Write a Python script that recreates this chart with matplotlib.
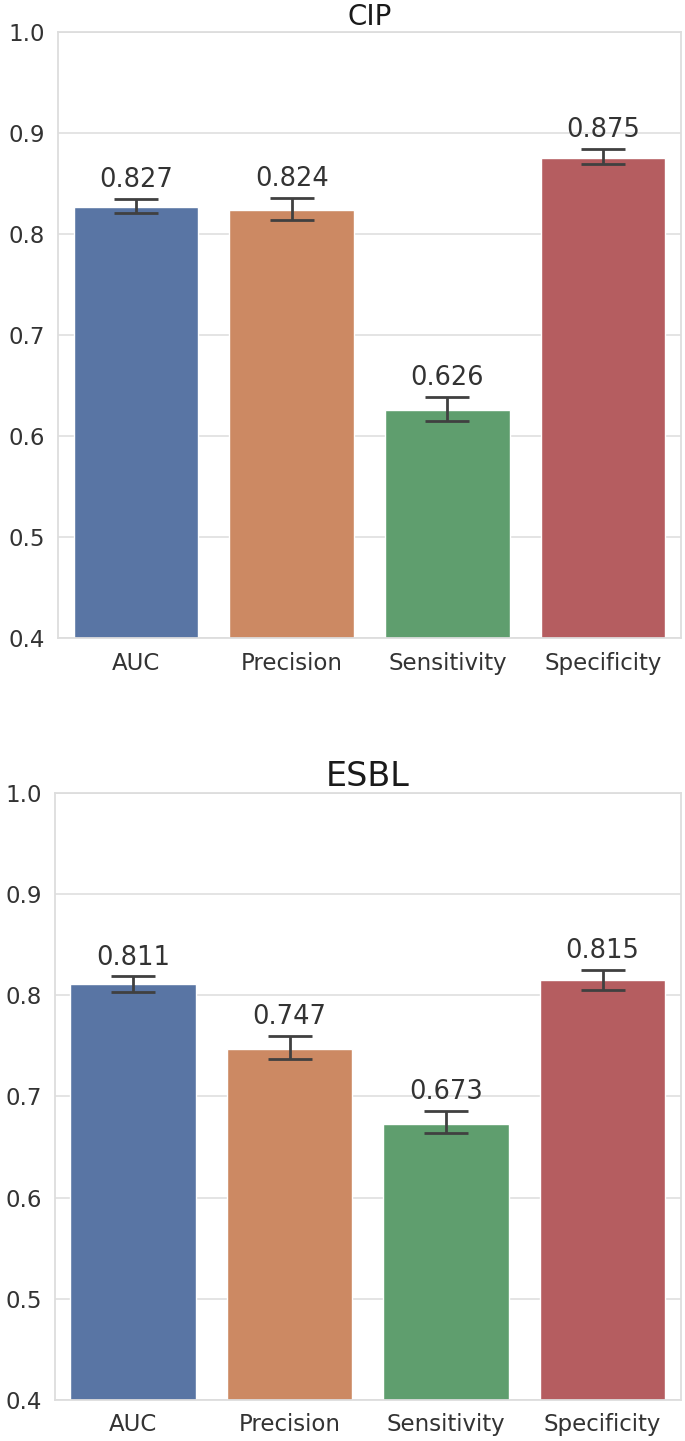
import numpy as np
import matplotlib
matplotlib.use("Agg")
import matplotlib.pyplot as plt
import seaborn as sns

sns.set_theme(style="whitegrid")
plt.rcParams['font.family'] = ['DejaVu Sans']

metrics = ["AUC", "Precision", "Sensitivity", "Specificity"]

# CIP
cip_vals = [0.827, 0.824, 0.626, 0.875]
cip_low = [0.821, 0.814, 0.615, 0.869]
cip_high = [0.835, 0.836, 0.639, 0.884]

# ESBL
esbl_vals = [0.811, 0.747, 0.673, 0.815]
esbl_low = [0.803, 0.737, 0.664, 0.805]
esbl_high = [0.819, 0.760, 0.686, 0.825]

colors = [sns.desaturate(c, 0.75) for c in sns.color_palette("deep", 4)]

fig = plt.figure(figsize=(6.85, 14.41), dpi=100)
ax1 = fig.add_axes([0.085, 0.557, 0.909, 0.421])
ax2 = fig.add_axes([0.080, 0.0285, 0.914, 0.4212])

def draw(ax, title, vals, low, high, title_size):
    x = np.arange(len(metrics))
    vals = np.array(vals)
    yerr = np.array([vals - np.array(low), np.array(high) - vals])
    ax.bar(x, vals, width=0.8, color=colors, zorder=2)
    ax.errorbar(x, vals, yerr=yerr, fmt='none', ecolor='#404040',
                elinewidth=2, capsize=16, capthick=2, zorder=3)
    for xi, v, h in zip(x, vals, high):
        ax.annotate(f"{v:.3f}", (xi, h), xytext=(0, 4), textcoords='offset points',
                    ha='center', va='bottom', fontsize=18.5, color='#333333')
    ax.set_xticks(x)
    ax.set_xticklabels(metrics, fontsize=16.5, color='#333333')
    ax.set_ylim(0.4, 1.0)
    ax.set_xlim(-0.5, 3.5)
    ax.set_yticks([0.4, 0.5, 0.6, 0.7, 0.8, 0.9, 1.0])
    ax.tick_params(axis='y', labelsize=16.5, labelcolor='#333333')
    ax.set_title(title, fontsize=title_size, color='#1a1a1a', pad=5)
    ax.grid(axis='x', visible=False)
    ax.grid(axis='y', color='#e2e2e2', lw=1.3)
    for s in ax.spines.values():
        s.set_color('#dddddd')
        s.set_linewidth(1.3)

draw(ax1, "CIP", cip_vals, cip_low, cip_high, 20)
draw(ax2, "ESBL", esbl_vals, esbl_low, esbl_high, 24)

fig.savefig("out.png", dpi=100)
